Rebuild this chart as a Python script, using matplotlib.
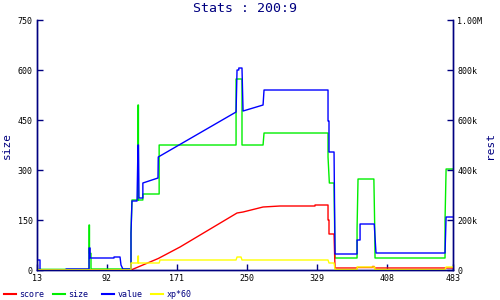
import matplotlib
matplotlib.use('Agg')
import matplotlib.pyplot as plt
from matplotlib.lines import Line2D

# x ticks / axis labels
xticks = [13, 92, 171, 250, 329, 408, 483]
left_ticks = [0, 150, 300, 450, 600, 750]
right_ticks = [0, 200000, 400000, 600000, 800000, 1000000]
right_labels = ['0', '200k', '400k', '600k', '800k', '1.00M']

# size (left axis)
size_x = [13, 71.8, 71.8, 72.3, 72.3, 74, 74, 119.2, 119.2, 120.3, 127.1, 127.1, 127.6, 127.6,
          132.6, 132.6, 151, 151, 237.9, 237.9, 244.6, 244.6, 268.4, 269.5, 341.8, 341.8, 343.3,
          348.6, 349.7, 374.6, 374.6, 375.7, 393.6, 394.6, 394.9, 474, 474, 475.2, 483]
size_y = [2, 2, 135, 135, 50, 50, 3, 3, 111, 210, 210, 495, 495, 210,
          210, 228, 228, 375, 375, 573, 573, 375, 375, 411, 411, 339, 261,
          261, 36, 36, 123, 273, 273, 123, 36, 36, 150, 303, 303]

# value (right axis, in k)
value_x = [13, 16.4, 16.4, 45.8, 45.8, 71.8, 71.8, 73, 73, 100, 100, 106.8, 107.9, 110,
           119.2, 119.2, 120.3, 126, 127.1, 127.6, 128.2, 132.6, 132.6, 149.7, 150,
           237.9, 239, 241, 241, 244.6, 245.8, 268.4, 269.5, 341.8, 341.8, 342.9, 342.9,
           348.6, 349.7, 374.6, 374.6, 378, 378, 394, 396, 474, 475.2, 483]
value_y = [40, 40, 0, 0, 4, 4, 88, 88, 48, 48, 52, 52, 20, 4,
           4, 148, 276, 276, 500, 500, 288, 288, 348, 368, 452,
           632, 800, 800, 808, 808, 636, 660, 720, 720, 596, 596, 472,
           472, 64, 64, 120, 120, 184, 184, 68, 68, 212, 212]

# score (right axis, in k)
score_x = [13, 119.2, 150, 174.6, 239, 245.8, 268.4, 287.6, 327.1, 327.1, 341.8, 341.8,
           342.9, 342.9, 348.6, 349.7, 374.6, 374.6, 392, 392, 394, 394, 483]
score_y = [0, 0, 46, 92, 228, 232, 252, 256, 256, 260, 260, 200,
           200, 144, 144, 8, 8, 10, 10, 14, 14, 8, 8]

# xp*60 (right axis, in k)
xp_x = [13, 119.2, 119.2, 127.1, 127.1, 127.6, 127.6, 151, 152, 237.9, 239, 243.5, 244.6,
        341.8, 342.9, 348.6, 349.7, 374.6, 374.6, 394.6, 394.6, 474, 475.2, 483]
xp_y = [1, 1, 28, 28, 56, 56, 28, 28, 40, 40, 52, 52, 40,
        40, 28, 28, 2, 2, 12, 12, 2, 2, 12, 12]

navy = '#000080'
mono = 'DejaVu Sans Mono'

fig = plt.figure(figsize=(5, 3), dpi=100)
ax = fig.add_axes([0.074, 0.1, 0.832, 0.8333])
ax2 = ax.twinx()

k = 1000
lw = 1.0
ax.plot(size_x, size_y, color='#00ee00', lw=lw)   # size on left axis, drawn below the rest
ax2.plot(score_x, [v * k for v in score_y], color='#ff0000', lw=lw)
ax2.plot(value_x, [v * k for v in value_y], color='#0000ff', lw=lw)
ax2.plot(xp_x, [v * k for v in xp_y], color='#ffff00', lw=lw)

ax.set_xlim(13, 483)
ax.set_ylim(0, 750)
ax2.set_ylim(0, 1000000)
ax.set_xticks(xticks)
ax.set_xticklabels([str(t) for t in xticks], fontsize=6, family=mono)
ax.set_yticks(left_ticks)
ax.set_yticklabels([str(t) for t in left_ticks], fontsize=6, family=mono)
ax2.set_yticks(right_ticks)
ax2.set_yticklabels(right_labels, fontsize=6, family=mono)

for a in (ax, ax2):
    a.spines['top'].set_visible(False)
    for s in ('left', 'right', 'bottom'):
        a.spines[s].set_color(navy)
        a.spines[s].set_linewidth(1.0)
    a.tick_params(direction='in', length=4, width=1, color=navy, labelcolor='black', pad=3)

ax.set_ylabel('size', color=navy, fontsize=8, family=mono, labelpad=4)
ax2.set_ylabel('rest', color=navy, fontsize=8, family=mono, labelpad=2)
fig.text(0.49, 0.972, 'Stats : 200:9', color=navy, fontsize=9.5, family=mono, ha='center', va='center')

# legend at bottom
leg = [('score', '#ff0000', 4), ('size', '#00ee00', 53), ('value', '#0000ff', 102), ('xp*60', '#ffff00', 151)]
for name, col, px in leg:
    fig.add_artist(Line2D([px / 500, (px + 12) / 500], [0.019, 0.019], color=col, lw=1.5))
    fig.text((px + 15.5) / 500, 0.019, name, color=navy, fontsize=6, family=mono, va='center')

fig.savefig('out.png', dpi=100)
